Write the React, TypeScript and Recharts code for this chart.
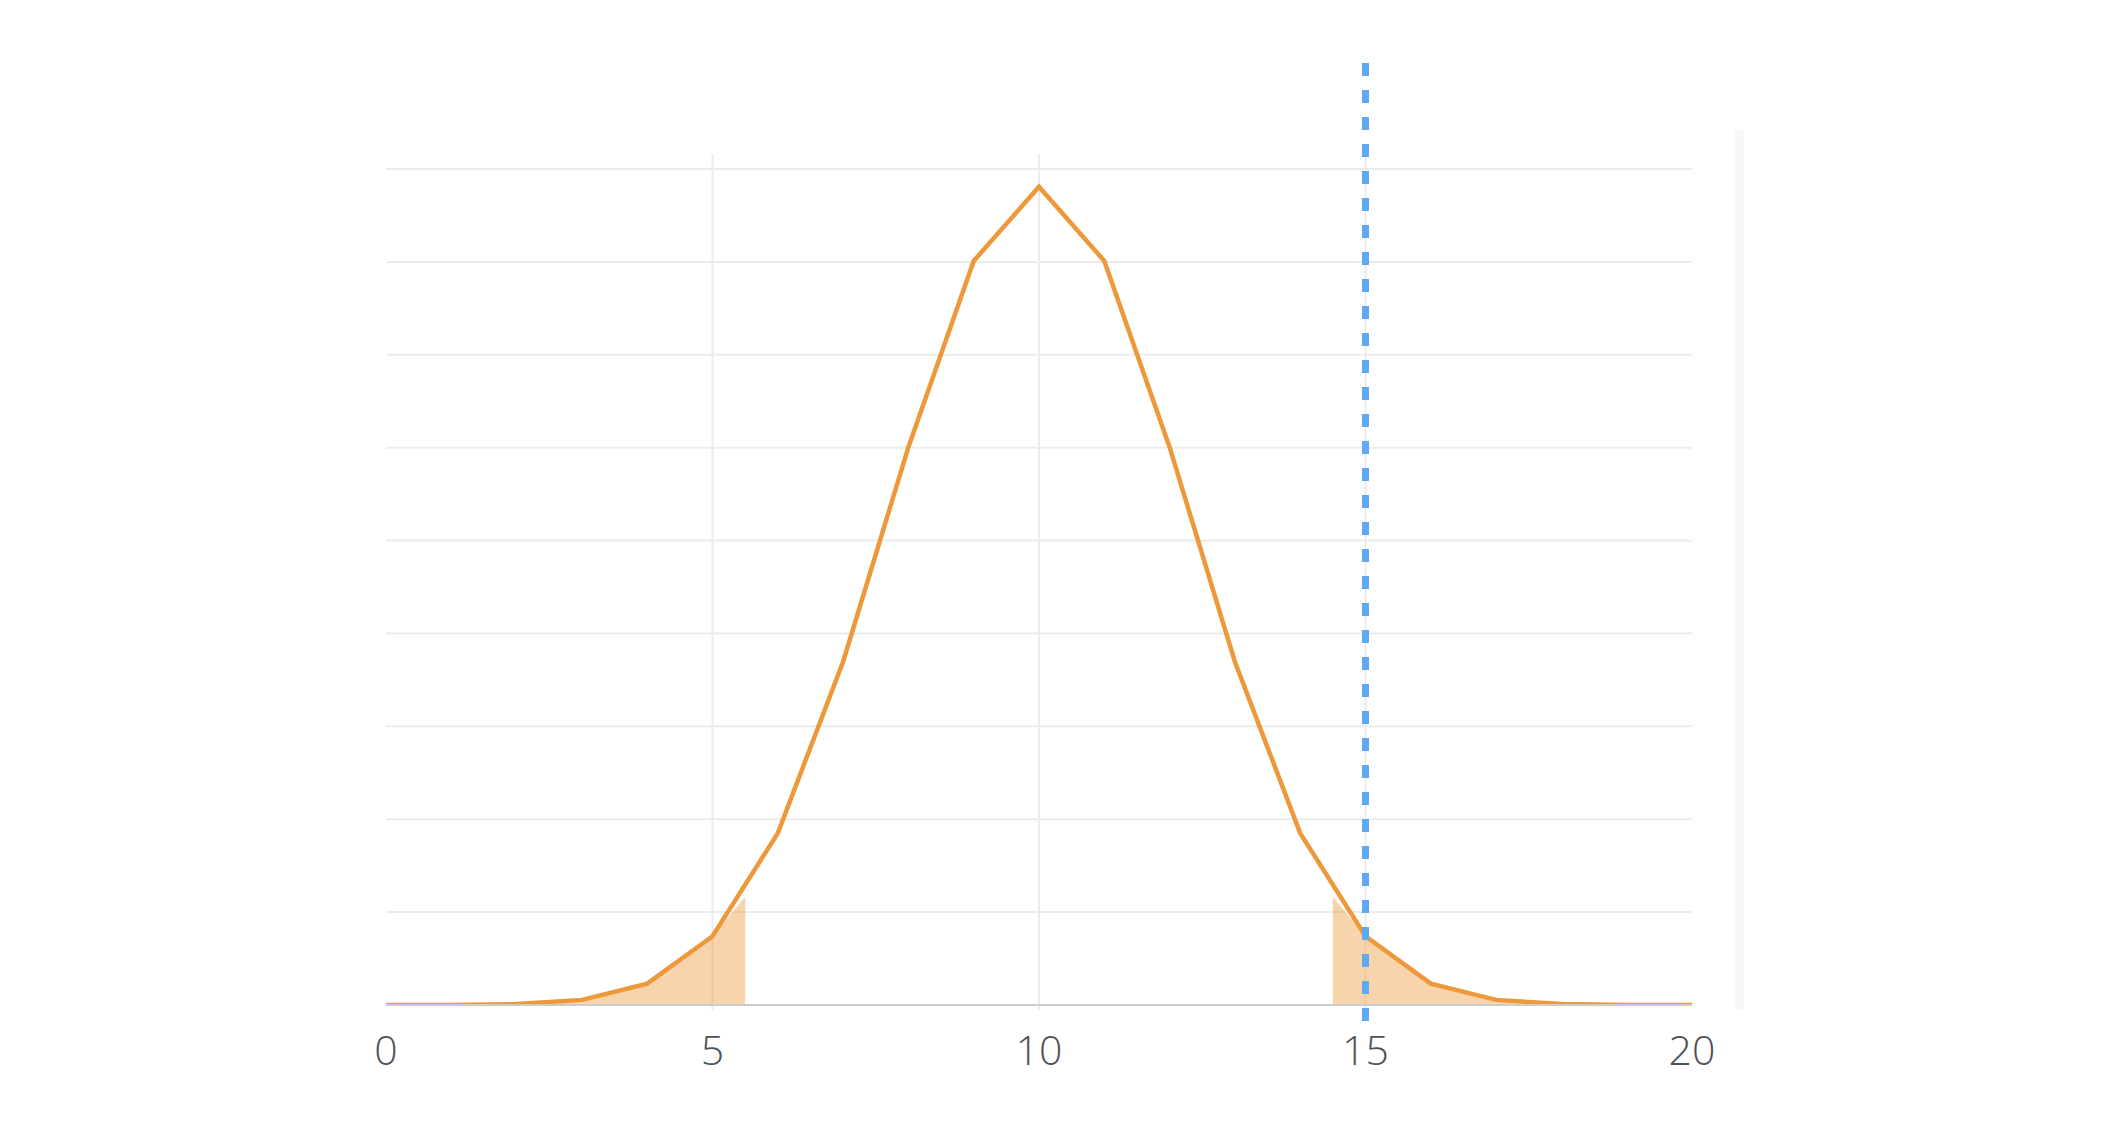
import React from 'react';
import {
  ComposedChart, Line, Area, XAxis, YAxis, CartesianGrid, ReferenceLine,
} from 'recharts';

// Binomial-looking distribution (k = 0..20)
const kValues = [0, 1, 2, 3, 4, 5, 6, 7, 8, 9, 10, 11, 12, 13, 14, 15, 16, 17, 18, 19, 20];
const probValues = [
  0.0000, 0.0000, 0.0002, 0.0011, 0.0046, 0.0148, 0.0370, 0.0739, 0.1201, 0.1602,
  0.1762, 0.1602, 0.1201, 0.0739, 0.0370, 0.0148, 0.0046, 0.0011, 0.0002, 0.0000, 0.0000,
];

// shaded tails
const leftTailX = [0, 1, 2, 3, 4, 5, 5.5];
const leftTailP = [0.0000, 0.0000, 0.0002, 0.0011, 0.0046, 0.0148, 0.0233];
const rightTailX = [14.5, 15, 16, 17, 18, 19, 20];
const rightTailP = [0.0233, 0.0148, 0.0046, 0.0011, 0.0002, 0.0000, 0.0000];

const xTicks = [0, 5, 10, 15, 20];
const gridValues = [0.02, 0.04, 0.06, 0.08, 0.1, 0.12, 0.14, 0.16, 0.18];
const verticalGrid = [5, 10, 15];
const markerX = 15;

const W = 2110;
const H = 1136;
const ORANGE = '#ED983A';
const GRID = '#ececec';

export default function App() {
  const lineData = kValues.map((k, i) => ({ x: k, p: probValues[i] }));
  const leftData = leftTailX.map((k, i) => ({ x: k, p: leftTailP[i] }));
  const rightData = rightTailX.map((k, i) => ({ x: k, p: rightTailP[i] }));

  return (
    <div style={{ position: 'absolute', left: 0, top: 0, width: W, height: H, background: '#fff' }}>
      {/* faint panel edge on the right */}
      <div style={{ position: 'absolute', left: 1735, top: 130, width: 9, height: 879, background: '#f8f8f8' }} />
      <ComposedChart
        width={W}
        height={H}
        margin={{ top: 169, right: 418, bottom: 71, left: 386 }}
        style={{ position: 'absolute', left: 0, top: 0 }}
      >
        <CartesianGrid
          horizontalValues={gridValues}
          verticalValues={verticalGrid}
          stroke={GRID}
          strokeWidth={2}
        />
        <XAxis
          type="number"
          dataKey="x"
          domain={[0, 20]}
          ticks={xTicks}
          allowDataOverflow
          height={60}
          axisLine={{ stroke: '#cccccc', strokeWidth: 2 }}
          tickLine={false}
          tickSize={0}
          tickMargin={31}
          tick={{ fill: '#4d5259', fontSize: 41, fontWeight: 300, fontFamily: '"Open Sans", "Liberation Sans", sans-serif' }}
        />
        <YAxis type="number" domain={[0, 0.18]} hide allowDataOverflow />
        {/* grid stubs sticking out above and below the plot */}
        {verticalGrid.map(v => (
          <ReferenceLine
            key={'t' + v}
            segment={[{ x: v, y: 0.1832 }, { x: v, y: 0.18 }]}
            stroke={GRID}
            strokeWidth={2}
            ifOverflow="visible"
          />
        ))}
        {verticalGrid.map(v => (
          <ReferenceLine
            key={'b' + v}
            segment={[{ x: v, y: -0.0002 }, { x: v, y: -0.0011 }]}
            stroke={GRID}
            strokeWidth={2}
            ifOverflow="visible"
          />
        ))}
        <Area
          data={leftData}
          dataKey="p"
          type="linear"
          stroke="none"
          fill={ORANGE}
          fillOpacity={0.42}
          isAnimationActive={false}
        />
        <Area
          data={rightData}
          dataKey="p"
          type="linear"
          stroke="none"
          fill={ORANGE}
          fillOpacity={0.42}
          isAnimationActive={false}
        />
        <Line
          data={lineData}
          dataKey="p"
          type="linear"
          stroke={ORANGE}
          strokeWidth={4.5}
          dot={false}
          activeDot={false}
          isAnimationActive={false}
        />
        <ReferenceLine
          segment={[{ x: markerX, y: 0.2028 }, { x: markerX, y: -0.0043 }]}
          stroke="#5EA9F1"
          strokeWidth={7}
          strokeDasharray="13 14"
          ifOverflow="visible"
        />
      </ComposedChart>
    </div>
  );
}
